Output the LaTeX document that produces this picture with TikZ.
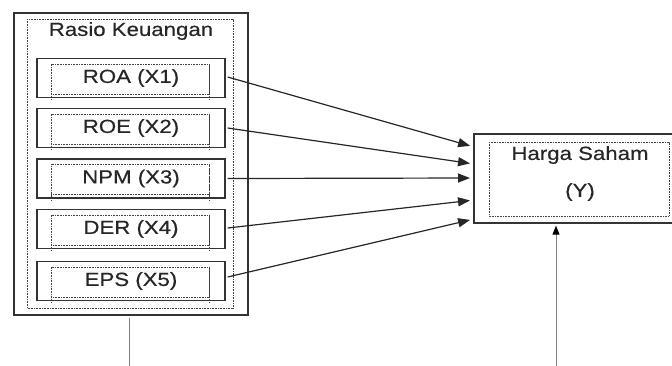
\documentclass[tikz,border=0pt]{standalone}
\usepackage{fontspec}
\setmainfont[FakeStretch=1.17,FakeBold=0.4]{Liberation Sans}
\usetikzlibrary{arrows.meta,calc}
\tikzset{
  solidbox/.style={draw=black!80, line width=1.3pt, rectangle, inner sep=0pt},
  dotbox/.style={draw=black!75, line width=0.7pt, dash pattern=on 0.8pt off 0.8pt},
  itembox/.style={solidbox, minimum width=188pt, minimum height=39pt},
  lbl/.style={font=\fontsize{19}{22}\selectfont, text=black!85, inner sep=0pt},
  conn/.style={draw=black!85, line width=1.2pt, -{Triangle[length=12pt,width=9pt]}, shorten >=4pt},
  feed/.style={draw=black!50, line width=0.9pt}
}
\begin{document}
\begin{tikzpicture}[x=1pt,y=-1pt]
\useasboundingbox (0,0) rectangle (672,365);
% left group
\node[solidbox, minimum width=234pt, minimum height=302pt] (rk) at (131,164) {};
\draw[dotbox] (27,19) rectangle (233,308);
\node[lbl] (title) at (131,31) {Rasio Keuangan};
\foreach \n/\y/\t in {roa/78/ROA (X1), roe/128/ROE (X2), npm/178.5/NPM (X3), der/229/DER (X4), eps/281/EPS (X5)}{
  \node[itembox] (\n) at (131,\y) {};
  \draw[dotbox] ($(\n.north west)+(15,6)$) rectangle ($(\n.south east)+(-16,-4)$);
  \draw[dotbox] ($(\n.north west)+(15,6)$) -- ($(\n.south west)+(15,1)$);
  \draw[dotbox] ($(\n.north east)+(-16,6)$) -- ($(\n.south east)+(-16,1)$);
  \node[lbl] (\n t) at (131,\y) {\t};
}
% right box
\node[solidbox, minimum width=199pt, minimum height=89pt] (hs) at (573.5,178.5) {};
\draw[dotbox] (489,142) rectangle (669,216);
\node[lbl] (hst) at (580,155) {Harga Saham};
\node[lbl] (hsy) at (580,192) {(Y)};
% arrow targets
\coordinate (t1) at (474,147);
\coordinate (t2) at (474,164);
\coordinate (t3) at (474,178);
\coordinate (t4) at (474,200);
\coordinate (t5) at (474,219);
\draw[conn] ($(roa.east)+(2,-1)$) -- (t1);
\draw[conn] ($(roe.east)+(2,0)$) -- (t2);
\draw[conn] ($(npm.east)+(2,0)$) -- (t3);
\draw[conn] ($(der.east)+(2,-1)$) -- (t4);
\draw[conn] ($(eps.east)+(2,-4)$) -- (t5);
% bottom lines
\coordinate (bl) at (129,366);
\coordinate (br) at (556,366);
\draw[feed] ($(rk.south)+(-2,2)$) -- (bl);
\draw[feed, -{Triangle[length=9pt,width=7pt,color=black]}] (br) -- ($(hs.south)+(-17.5,2)$);
\end{tikzpicture}
\end{document}
